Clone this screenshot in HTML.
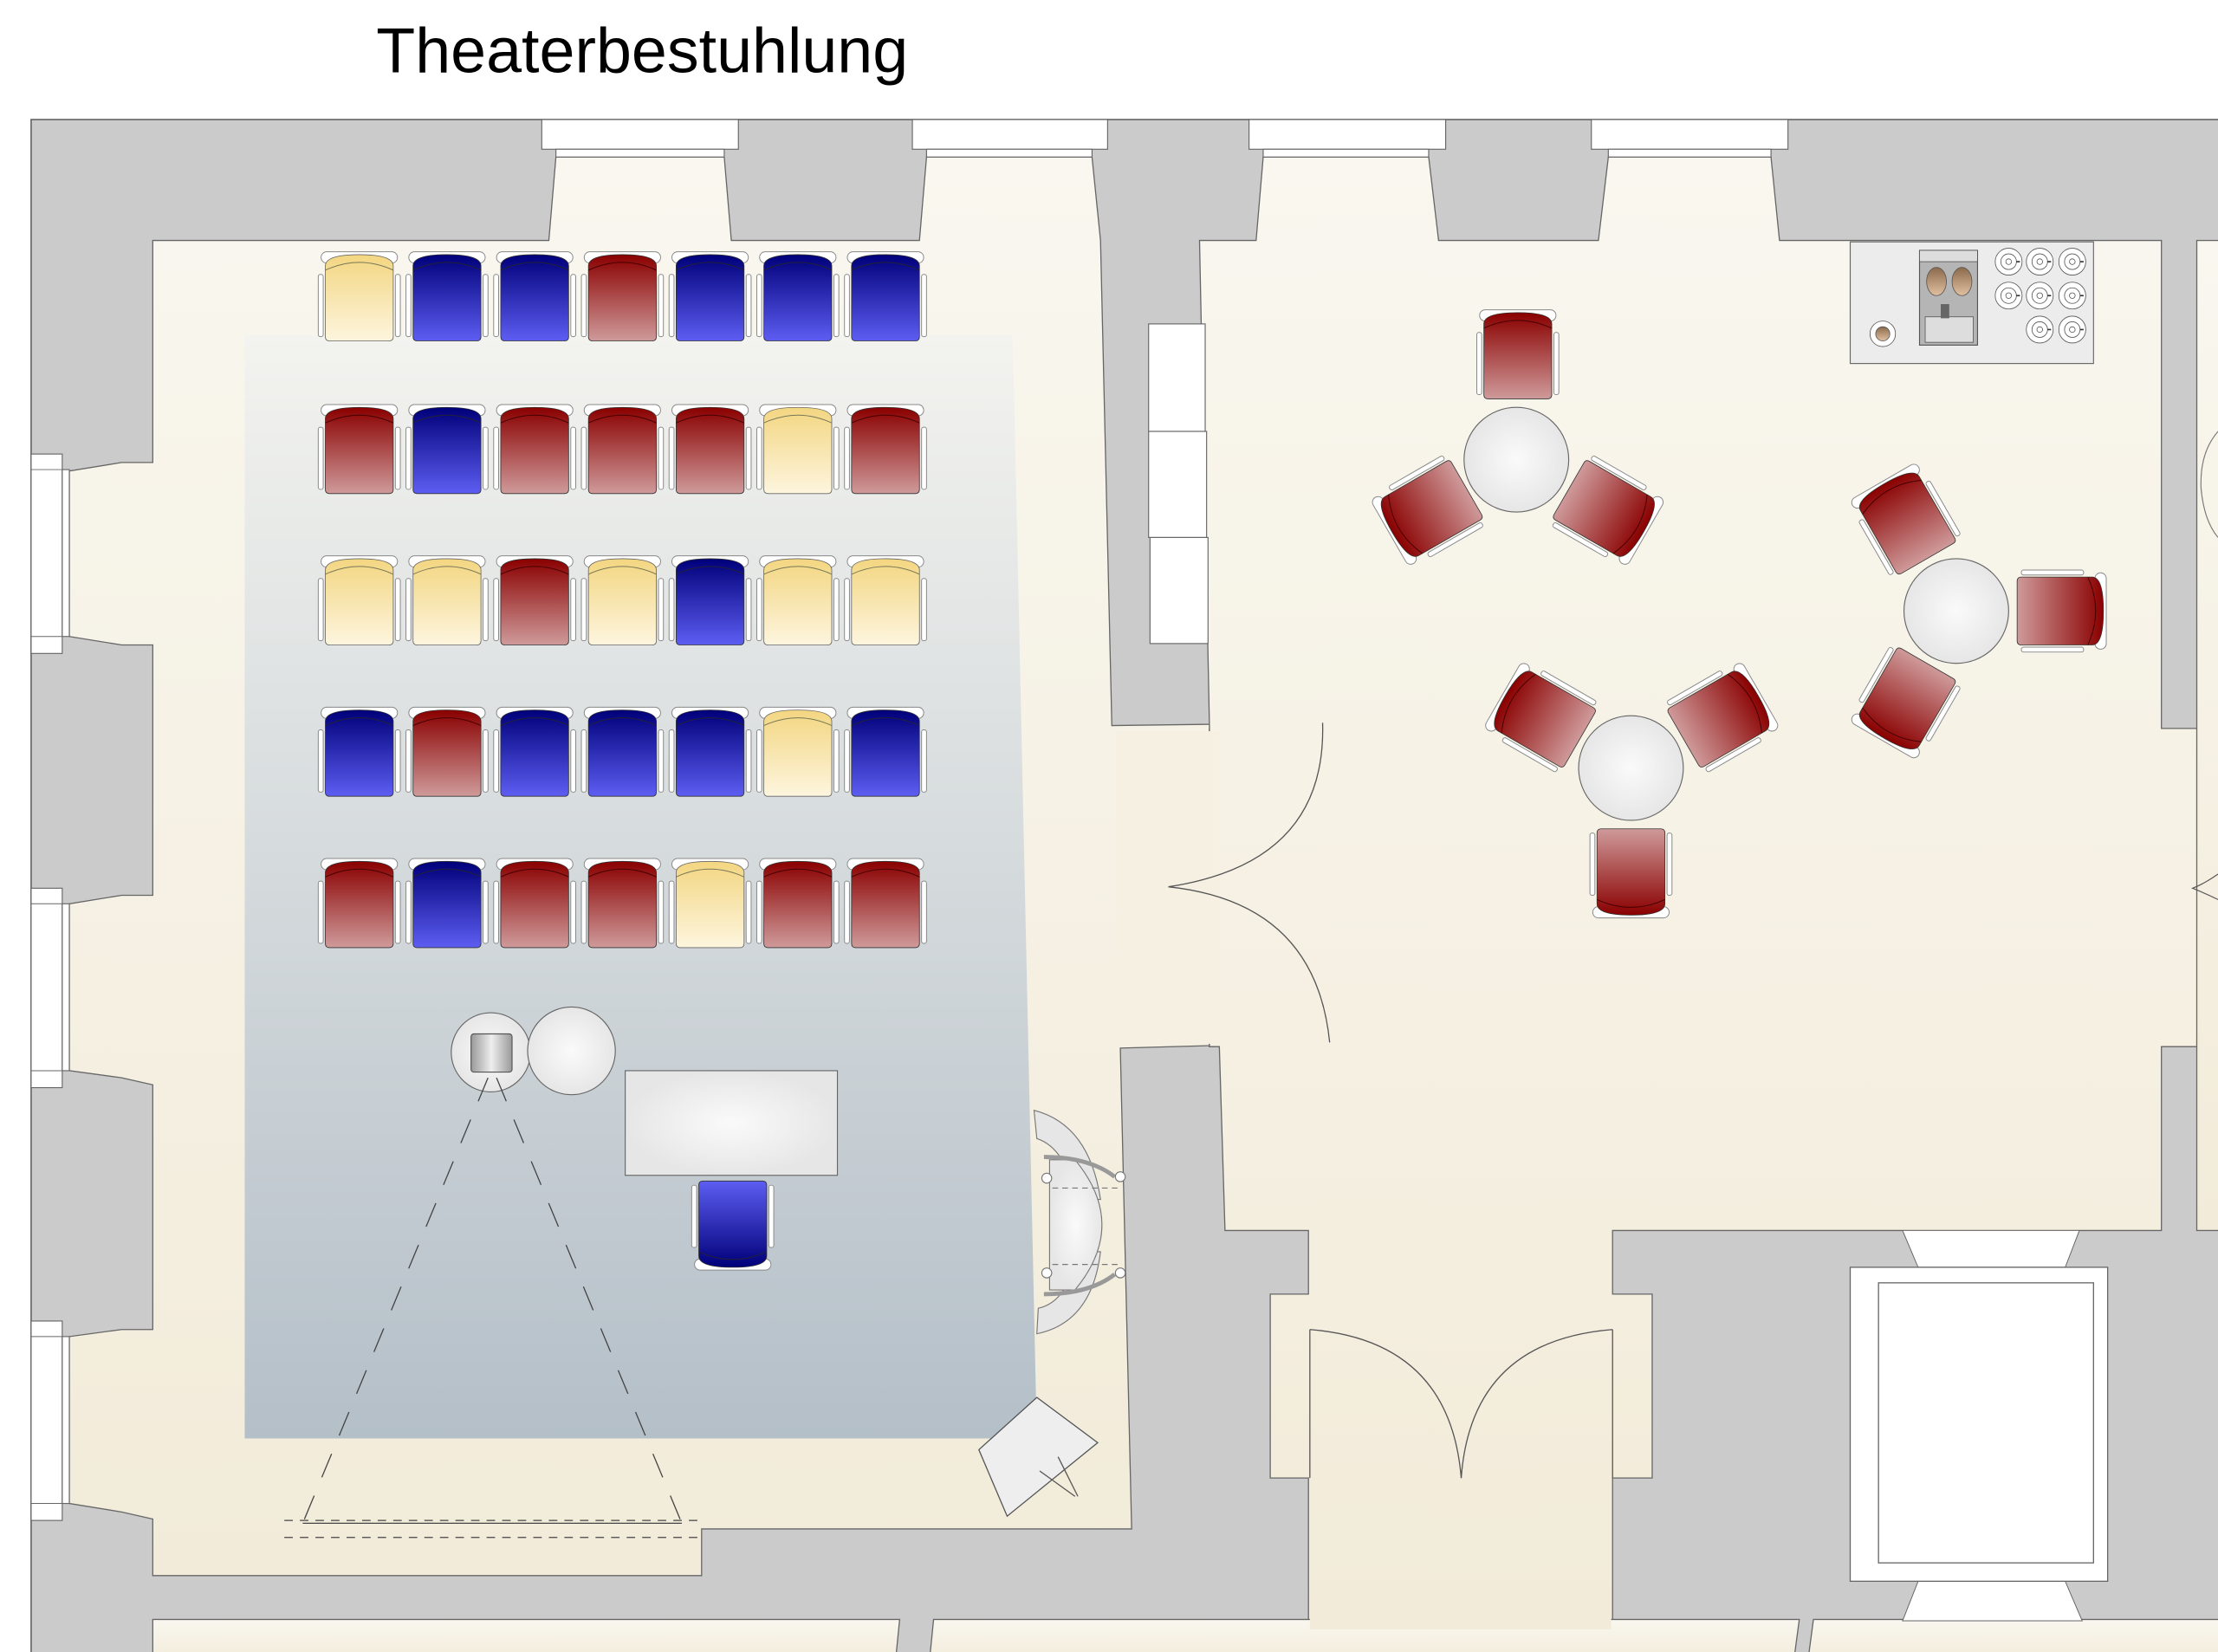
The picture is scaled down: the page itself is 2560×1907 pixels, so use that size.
<!DOCTYPE html>
<html><head><meta charset="utf-8"><style>
html,body{margin:0;padding:0;background:#fff}
svg{display:block}
</style></head><body>
<svg width="2560" height="1907" viewBox="0 0 1568 1168" xmlns="http://www.w3.org/2000/svg">
<defs>
<linearGradient id="gB" x1="0" y1="0" x2="0" y2="1"><stop offset="0" stop-color="#00007a"/><stop offset="1" stop-color="#5d5df2"/></linearGradient>
<linearGradient id="gR" x1="0" y1="0" x2="0" y2="1"><stop offset="0" stop-color="#8a0000"/><stop offset="1" stop-color="#cf9a9a"/></linearGradient>
<linearGradient id="gY" x1="0" y1="0" x2="0" y2="1"><stop offset="0" stop-color="#f3d681"/><stop offset="1" stop-color="#fdf5de"/></linearGradient>
<linearGradient id="gProj" x1="0" y1="0" x2="0" y2="1"><stop offset="0" stop-color="#f3f3ef"/><stop offset="1" stop-color="#b4bfc8"/></linearGradient>
<linearGradient id="gFloor" x1="0" y1="0" x2="0" y2="1"><stop offset="0" stop-color="#f9f7ef"/><stop offset="1" stop-color="#f2ebd9"/></linearGradient>
<radialGradient id="gTab"><stop offset="0" stop-color="#fafafa"/><stop offset="1" stop-color="#e6e6e6"/></radialGradient>
<linearGradient id="gMet" x1="0" y1="0" x2="1" y2="0"><stop offset="0" stop-color="#999"/><stop offset="0.5" stop-color="#eee"/><stop offset="1" stop-color="#999"/></linearGradient>
<linearGradient id="gCup" x1="0" y1="0" x2="0" y2="1"><stop offset="0" stop-color="#8a6a4a"/><stop offset="1" stop-color="#e0c0a0"/></linearGradient>
<g id="frame">
  <rect x="-27" y="-32" width="54" height="8" rx="4" fill="#fff" stroke="#888" stroke-width="0.6"/>
  <rect x="-29" y="-16" width="3.5" height="44" rx="1.5" fill="#fff" stroke="#888" stroke-width="0.6"/>
  <rect x="25.5" y="-16" width="3.5" height="44" rx="1.5" fill="#fff" stroke="#888" stroke-width="0.6"/>
</g>
<path id="seat" d="M-24,-22 Q-24,-30 0,-30 Q24,-30 24,-22 L24,28 Q24,31 21,31 L-21,31 Q-24,31 -24,28 Z"/>
<g id="cB"><use href="#frame"/><use href="#seat" fill="url(#gB)" stroke="#333" stroke-width="0.5"/><path d="M-24,-19 Q0,-30 24,-19" fill="none" stroke="#223" stroke-width="0.6"/></g>
<g id="cR"><use href="#frame"/><use href="#seat" fill="url(#gR)" stroke="#333" stroke-width="0.5"/><path d="M-24,-19 Q0,-30 24,-19" fill="none" stroke="#400" stroke-width="0.6"/></g>
<g id="cY"><use href="#frame"/><use href="#seat" fill="url(#gY)" stroke="#666" stroke-width="0.5"/><path d="M-24,-19 Q0,-30 24,-19" fill="none" stroke="#775" stroke-width="0.6"/></g>
<g id="cup"><circle r="9.5" fill="#fff" stroke="#555" stroke-width="0.5"/><circle r="5.5" fill="none" stroke="#555" stroke-width="0.5"/><circle r="2" fill="none" stroke="#555" stroke-width="0.5"/><line x1="5.5" y1="0" x2="8" y2="0" stroke="#333" stroke-width="1"/></g>
</defs>

<text x="266" y="51" font-family="Liberation Sans, sans-serif" font-size="45" textLength="376" lengthAdjust="spacingAndGlyphs" fill="#000">Theaterbestuhlung</text>

<rect x="22" y="84.5" width="1560" height="1100" fill="#cbcbcb" stroke="#666" stroke-width="1"/>

<g fill="url(#gFloor)" stroke="#666" stroke-width="0.8">
<path d="M108,170 L388,170 L393,111 L512,111 L517,170 L650,170 L655,111 L772,111 L778,170 L786,513 L935,511 L935,515 L855,515 L855,740 L940,737 L792,741 L800,1081 L496,1081 L496,1114 L108,1114 L108,1074 L86,1069 L49,1063 L49,945 L86,940 L108,940 L108,767 L86,762 L49,757 L49,639 L86,633 L108,633 L108,456 L86,456 L49,450 L49,333 L86,327 L108,327 Z"/>
<path d="M848,170 L888,170 L893,111 L1010,111 L1017,170 L1130,170 L1137,111 L1252,111 L1258,170 L1528,170 L1528,515 L1568,515 L1568,740 L1528,740 L1528,870 L1140,870 L1140,915 L1168,915 L1168,1045 L1140,1045 L1140,1150 L925,1150 L925,1045 L898,1045 L898,915 L925,915 L925,870 L866,870 L862,740 L855,740 L855,513 Z"/>
<rect x="1553" y="170" width="20" height="700"/>
<path d="M108,1145 L636,1145 L633,1175 L108,1175 Z"/>
<path d="M660,1145 L1272,1145 L1268,1175 L657,1175 Z"/>
<path d="M1282,1145 L1580,1145 L1580,1175 L1278,1175 Z"/>
</g>
<rect x="789" y="517" width="73" height="221" fill="#f5f0e2"/>
<rect x="926" y="1140" width="213" height="12" fill="#f2ebd9"/>

<g fill="#fff" stroke="#666" stroke-width="0.7">
<rect x="383" y="84.5" width="139" height="21"/><rect x="393" y="105.5" width="119" height="5.5"/>
<rect x="645" y="84.5" width="138" height="21"/><rect x="655" y="105.5" width="117" height="5.5"/>
<rect x="883" y="84.5" width="139" height="21"/><rect x="893" y="105.5" width="117" height="5.5"/>
<rect x="1125" y="84.5" width="139" height="21"/><rect x="1137" y="105.5" width="115" height="5.5"/>
<rect x="22" y="321" width="22" height="141"/><rect x="44" y="332" width="5" height="118"/>
<rect x="22" y="628" width="22" height="141"/><rect x="44" y="639" width="5" height="118"/>
<rect x="22" y="934" width="22" height="141"/><rect x="44" y="945" width="5" height="118"/>
</g>
<g stroke="#666" stroke-width="0.6"><line x1="22" y1="332" x2="44" y2="332"/><line x1="22" y1="450" x2="44" y2="450"/><line x1="22" y1="639" x2="44" y2="639"/><line x1="22" y1="757" x2="44" y2="757"/><line x1="22" y1="945" x2="44" y2="945"/><line x1="22" y1="1063" x2="44" y2="1063"/></g>

<path d="M1345,870 L1470,870 L1460,896 L1356,896 Z" fill="#fff" stroke="#666" stroke-width="0.6"/>
<path d="M1356,1118 L1460,1118 L1472,1146 L1345,1146 Z" fill="#fff" stroke="#666" stroke-width="0.6"/>
<rect x="1308" y="896" width="182" height="222" fill="#fff" stroke="#666" stroke-width="0.8"/>
<rect x="1328" y="907" width="152" height="198" fill="#fff" stroke="#666" stroke-width="0.8"/>

<g fill="#fff" stroke="#666" stroke-width="0.7">
<rect x="812" y="229" width="40" height="76"/><rect x="812" y="305" width="41" height="75"/><rect x="813" y="380" width="41" height="75"/>
</g>

<path d="M173,237 L716,237 L733,1017 L173,1017 Z" fill="url(#gProj)"/>

<g fill="none" stroke="#555" stroke-width="0.8">
<path d="M935,511 Q938,610 826,627"/>
<path d="M940,737 Q930,638 826,627"/>
<path d="M926,940 Q1025,948 1033,1045"/>
<path d="M1140,940 Q1040,948 1033,1045"/>
<line x1="926" y1="940" x2="926" y2="1045"/><line x1="1140" y1="940" x2="1140" y2="1045"/>
</g>

<g>
<use href="#cY" x="254" y="210"/><use href="#cB" x="316" y="210"/><use href="#cB" x="378" y="210"/><use href="#cR" x="440" y="210"/><use href="#cB" x="502" y="210"/><use href="#cB" x="564" y="210"/><use href="#cB" x="626" y="210"/>
<use href="#cR" x="254" y="318"/><use href="#cB" x="316" y="318"/><use href="#cR" x="378" y="318"/><use href="#cR" x="440" y="318"/><use href="#cR" x="502" y="318"/><use href="#cY" x="564" y="318"/><use href="#cR" x="626" y="318"/>
<use href="#cY" x="254" y="425"/><use href="#cY" x="316" y="425"/><use href="#cR" x="378" y="425"/><use href="#cY" x="440" y="425"/><use href="#cB" x="502" y="425"/><use href="#cY" x="564" y="425"/><use href="#cY" x="626" y="425"/>
<use href="#cB" x="254" y="532"/><use href="#cR" x="316" y="532"/><use href="#cB" x="378" y="532"/><use href="#cB" x="440" y="532"/><use href="#cB" x="502" y="532"/><use href="#cY" x="564" y="532"/><use href="#cB" x="626" y="532"/>
<use href="#cR" x="254" y="639"/><use href="#cB" x="316" y="639"/><use href="#cR" x="378" y="639"/><use href="#cR" x="440" y="639"/><use href="#cY" x="502" y="639"/><use href="#cR" x="564" y="639"/><use href="#cR" x="626" y="639"/>
</g>

<circle cx="347" cy="744" r="28" fill="url(#gTab)" stroke="#666" stroke-width="0.7"/>
<rect x="333" y="731" width="29" height="27" rx="2" fill="url(#gMet)" stroke="#555" stroke-width="0.7"/>
<circle cx="404" cy="743" r="31" fill="url(#gTab)" stroke="#666" stroke-width="0.7"/>
<g stroke="#444" stroke-width="0.8" fill="none" stroke-dasharray="18,14">
<line x1="345" y1="762" x2="214" y2="1077"/>
<line x1="351" y1="762" x2="482" y2="1077"/>
</g>
<line x1="214" y1="1077" x2="482" y2="1077" stroke="#444" stroke-width="0.8"/>
<g stroke="#444" stroke-width="0.8" stroke-dasharray="6,5"><line x1="201" y1="1075" x2="496" y2="1075"/><line x1="201" y1="1087" x2="496" y2="1087"/></g>

<rect x="442" y="757" width="150" height="74" fill="url(#gTab)" stroke="#666" stroke-width="0.7"/>
<use href="#cB" transform="translate(518,866) rotate(180)"/>

<g stroke="#777" stroke-width="0.7">
<path d="M731,785 Q770,795 778,848 L760,848 Q754,812 733,805 Z" fill="#e6e6e6"/>
<path d="M733,943 Q772,935 778,885 L760,885 Q756,920 734,925 Z" fill="#e6e6e6"/>
<path d="M742,820 L760,820 Q798,866 760,912 L742,912 Z" fill="url(#gTab)"/>
<path d="M744,840 L790,840 M744,894 L790,894" stroke-dasharray="4,3" fill="none"/>
<path d="M738,818 Q770,818 788,832" fill="none" stroke-width="3" stroke="#999"/>
<path d="M738,915 Q770,915 788,901" fill="none" stroke-width="3" stroke="#999"/>
<circle cx="740" cy="833" r="3.5" fill="#fff"/><circle cx="792" cy="832" r="3.5" fill="#fff"/>
<circle cx="740" cy="900" r="3.5" fill="#fff"/><circle cx="792" cy="900" r="3.5" fill="#fff"/>
</g>

<g stroke="#555" stroke-width="0.8">
<path d="M733,988 L692,1025 L712,1072 L776,1020 Z" fill="#eee"/>
<line x1="735" y1="1040" x2="760" y2="1058" fill="none"/>
<line x1="748" y1="1030" x2="762" y2="1058" fill="none"/>
</g>

<rect x="1308" y="171" width="172" height="86" fill="#ececec" stroke="#666" stroke-width="0.7"/>
<rect x="1357" y="177" width="41" height="67" fill="#b5b5b5" stroke="#555" stroke-width="0.7"/>
<rect x="1357" y="177" width="41" height="8" fill="#ddd" stroke="#555" stroke-width="0.5"/>
<rect x="1361" y="224" width="34" height="18" fill="#ddd" stroke="#555" stroke-width="0.5"/>
<ellipse cx="1369" cy="199" rx="7" ry="10" fill="url(#gCup)" stroke="#555" stroke-width="0.5"/>
<ellipse cx="1387" cy="199" rx="7" ry="10" fill="url(#gCup)" stroke="#555" stroke-width="0.5"/>
<rect x="1372" y="215" width="6" height="10" fill="#666"/>
<circle cx="1331" cy="236" r="9" fill="#fff" stroke="#555" stroke-width="0.5"/><circle cx="1331" cy="236" r="5" fill="url(#gCup)" stroke="#555" stroke-width="0.5"/>
<use href="#cup" x="1420" y="185"/><use href="#cup" x="1442" y="185"/><use href="#cup" x="1465" y="185"/>
<use href="#cup" x="1420" y="209"/><use href="#cup" x="1442" y="209"/><use href="#cup" x="1465" y="209"/>
<use href="#cup" x="1442" y="233"/><use href="#cup" x="1465" y="233"/>

<circle cx="1072" cy="325" r="37" fill="url(#gTab)" stroke="#666" stroke-width="0.7"/>
<circle cx="1383" cy="432" r="37" fill="url(#gTab)" stroke="#666" stroke-width="0.7"/>
<circle cx="1153" cy="543" r="37" fill="url(#gTab)" stroke="#666" stroke-width="0.7"/>
<use href="#cR" transform="translate(1073,251)"/>
<use href="#cR" transform="translate(1010,361) rotate(-120)"/>
<use href="#cR" transform="translate(1136,361) rotate(120)"/>
<use href="#cR" transform="translate(1347,368) rotate(-30)"/>
<use href="#cR" transform="translate(1457,432) rotate(90)"/>
<use href="#cR" transform="translate(1347,496) rotate(-150)"/>
<use href="#cR" transform="translate(1090,507) rotate(-60)"/>
<use href="#cR" transform="translate(1217,507) rotate(60)"/>
<use href="#cR" transform="translate(1153,617) rotate(180)"/>

<path d="M1568,305 Q1555,320 1556,345 Q1558,368 1568,380" fill="none" stroke="#777" stroke-width="0.7"/>
<path d="M1568,618 Q1558,625 1550,628 Q1560,632 1568,636" fill="none" stroke="#555" stroke-width="0.7"/>
</svg>
</body></html>
